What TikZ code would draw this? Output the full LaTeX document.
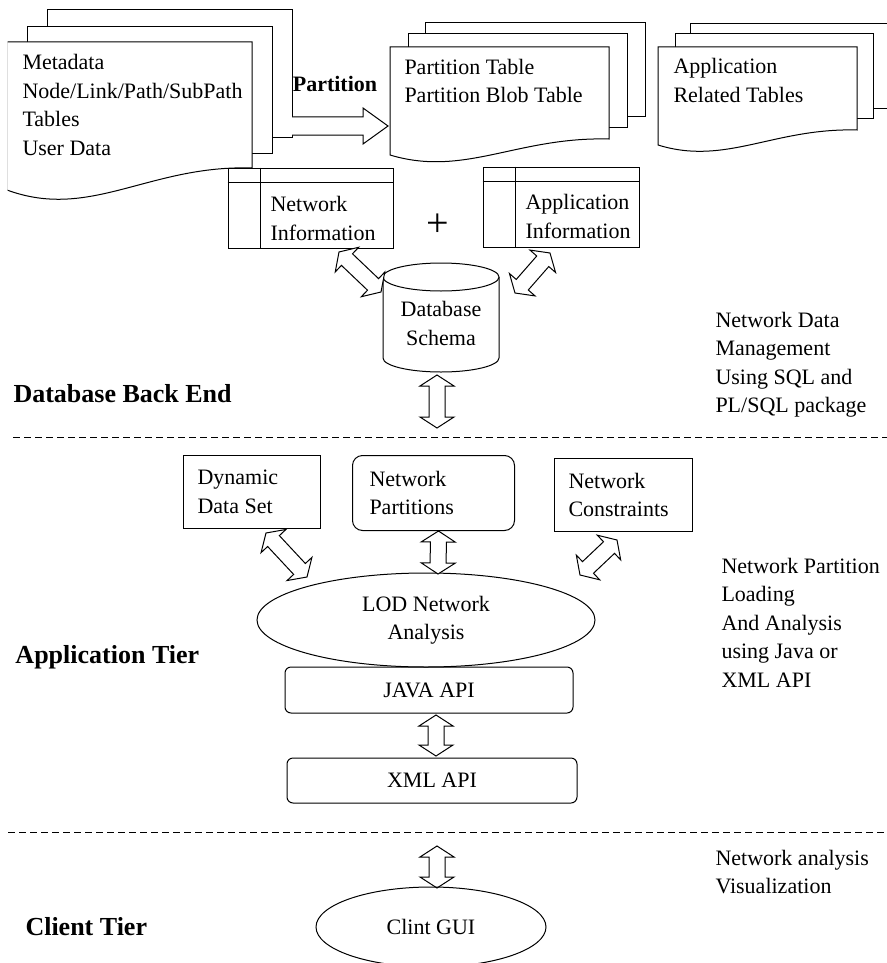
\documentclass[tikz,border=0pt]{standalone}
\usepackage{fontspec}
\setmainfont{Liberation Serif}
\usetikzlibrary{calc}
\usetikzlibrary{shapes.geometric}
\newcommand{\bodyfont}{\fontsize{11}{14.25}\selectfont}
\tikzset{
    sheet/.style={draw=black, fill=white},
    tablebox/.style={draw=black, fill=white, inner sep=0pt},
    infobox/.style={draw=black, anchor=north west, align=flush left, inner ysep=0pt, font=\bodyfont},
    apibox/.style={draw=black, rounded corners=3pt, inner sep=0pt, font=\bodyfont},
    oval/.style={draw=black, ellipse, inner sep=0pt, font=\bodyfont},
    fatarrow/.style={draw=black, fill=white},
    tierline/.style={draw=black, dash pattern=on 3.5pt off 2pt},
    tierlabel/.style={anchor=base west, inner sep=0pt, font=\fontsize{13}{15}\selectfont\bfseries},
    bodytext/.style={anchor=west, align=left, inner sep=0pt, font=\bodyfont},
}
% arrow sizes: half shaft, half head, head length
\newcommand{\fatshaft}{4pt}
\newcommand{\fathead}{8.5pt}
\newcommand{\fatlen}{5.5pt}
\newcommand{\dblarrow}[2]{%
    \draw[fatarrow] (#1)
        -- ($(#1)!\fatlen!(#2)!\fathead!90:(#2)$)
        -- ($(#1)!\fatlen!(#2)!\fatshaft!90:(#2)$)
        -- ($(#2)!\fatlen!(#1)!\fatshaft!-90:(#1)$)
        -- ($(#2)!\fatlen!(#1)!\fathead!-90:(#1)$)
        -- (#2)
        -- ($(#2)!\fatlen!(#1)!\fathead!90:(#1)$)
        -- ($(#2)!\fatlen!(#1)!\fatshaft!90:(#1)$)
        -- ($(#1)!\fatlen!(#2)!\fatshaft!-90:(#2)$)
        -- ($(#1)!\fatlen!(#2)!\fathead!-90:(#2)$)
        -- cycle;}
\newcommand{\onearrow}[2]{%
    \draw[fatarrow] ($(#1)!\fatshaft!90:(#2)$)
        -- ($(#2)!\fatlen!(#1)!\fatshaft!-90:(#1)$)
        -- ($(#2)!\fatlen!(#1)!\fathead!-90:(#1)$)
        -- (#2)
        -- ($(#2)!\fatlen!(#1)!\fathead!90:(#1)$)
        -- ($(#2)!\fatlen!(#1)!\fatshaft!90:(#1)$)
        -- ($(#1)!\fatshaft!-90:(#2)$);}
% front sheet of a stack: x1, top, x2, bottom right, drop of the wave
\newcommand{\docfront}[5]{%
    \draw[sheet] (#1,#2) -- (#3,#2) -- (#3,#4)
        .. controls ({#3-0.42*(#3-#1)},{#4-0.15*#5}) and ({#1+0.34*(#3-#1)},{#4+2.4*#5}) .. (#1,{#4+#5})
        -- cycle;}

\begin{document}
\begin{tikzpicture}[x=0.5pt, y=-0.5pt, line width=0.5pt]
	\useasboundingbox (0,0) rectangle (887,963);
	\clip (7.5,0) rectangle (887,963);
	% back end tables
	\draw[sheet] (47,10) rectangle (292,137);
	\draw[sheet] (27,27) rectangle (272,153);
	\docfront{7}{42}{252}{168}{22}
	\node[bodytext] (rawdata) at (22,105) {Metadata\\Node/Link/Path/SubPath\\Tables\\User Data};
	\draw[sheet] (425,23) rectangle (645,117);
	\draw[sheet] (408,34) rectangle (627,128);
	\docfront{390}{47}{609}{139}{16}
	\node[bodytext] (parttables) at (404,81) {Partition Table\\Partition Blob Table};
	\draw[sheet] (690,24) rectangle (895,109);
	\draw[sheet] (675,34) rectangle (873,119);
	\docfront{658}{47}{857}{130}{15}
	\node[bodytext] (apptables) at (673,80.5) {Application\\Related Tables};
	%
	\coordinate (parttail) at (292,126);
	\coordinate (parttip) at (388,126);
	\begin{scope}
		\renewcommand{\fatshaft}{4.5pt}
		\renewcommand{\fathead}{9pt}
		\renewcommand{\fatlen}{12.5pt}
		\onearrow{parttail}{parttip}
	\end{scope}
	\node[anchor=base, inner sep=0pt, font=\fontsize{11}{13}\selectfont\bfseries] (partlabel) at (335,92) {Partition};
	%
	\node[tablebox, minimum width=82.5pt, minimum height=40pt] (netinfo) at (310.5,208) {};
	\draw ([yshift=-7.5pt]netinfo.north west) -- ([yshift=-7.5pt]netinfo.north east);
	\draw ([xshift=16.5pt]netinfo.north west) -- ([xshift=16.5pt]netinfo.south west);
	\node[bodytext] (netinfotext) at (270,218.5) {Network\\Information};
	\node[tablebox, minimum width=78pt, minimum height=40pt] (appinfo) at (561,207) {};
	\draw ([yshift=-7.5pt]appinfo.north west) -- ([yshift=-7.5pt]appinfo.north east);
	\draw ([xshift=16.5pt]appinfo.north west) -- ([xshift=16.5pt]appinfo.south west);
	\node[bodytext] (appinfotext) at (525,216.5) {Application\\Information};
	\node[inner sep=0pt, font=\fontsize{20}{24}\selectfont] (plus) at (438,225) {+};
	%
	\draw[sheet] (383,277) -- (383,358) arc[start angle=180, end angle=360, x radius=29pt, y radius=7pt] -- (499,277);
	\draw[sheet] (441,277) ellipse [x radius=29pt, y radius=7pt];
	\node[align=center, inner sep=0pt, font=\bodyfont] (dbschema) at (441,323.5) {Database\\Schema};
	%
	\coordinate (netup) at (339,252);
	\coordinate (netdown) at (381,292);
	\coordinate (appup) at (550,253);
	\coordinate (appdown) at (515,293);
	\coordinate (dbout) at (437,375);
	\coordinate (dbin) at (437,428);
	\dblarrow{netup}{netdown}
	\dblarrow{appup}{appdown}
	\dblarrow{dbout}{dbin}
	%
	\node[tierlabel] (backend) at (13,402) {Database Back End};
	\node[bodytext] (backendnote) at (715,364.5) {Network Data\\Management\\Using SQL and\\PL/SQL package};
	\draw[tierline] (13,437) -- (887,437);
	%
	\node[infobox, text width=54.5pt, inner xsep=7pt, minimum height=36.5pt] (dynset) at (183,455) {Dynamic\\Data Set};
	\node[infobox, rounded corners=5pt, text width=64pt, inner xsep=8.5pt, minimum height=37.5pt] (netparts) at (352,455) {Network\\Partitions};
	\node[infobox, text width=55pt, inner xsep=7pt, minimum height=36.5pt] (netcons) at (554,458) {Network\\Constraints};
	\node[oval, minimum width=169pt, minimum height=47pt, align=center] (lod) at (426,620) {LOD Network\\Analysis};
	\node[apibox, minimum width=144pt, minimum height=23pt] (javaapi) at (429,690) {JAVA API};
	\node[apibox, minimum width=145pt, minimum height=22.5pt] (xmlapi) at (432,780.5) {XML API};
	%
	\coordinate (dynup) at (266,533);
	\coordinate (dyndown) at (307,577);
	\coordinate (partup) at ([xshift=2.5pt]netparts.south);
	\coordinate (partdown) at (438,574);
	\coordinate (consup) at (617,540);
	\coordinate (consdown) at (580,575);
	\coordinate (javaout) at (436,715);
	\coordinate (xmlin) at (436,756);
	\dblarrow{dynup}{dyndown}
	\dblarrow{partup}{partdown}
	\dblarrow{consup}{consdown}
	\dblarrow{javaout}{xmlin}
	%
	\node[tierlabel] (apptier) at (15,663) {Application Tier};
	\node[bodytext] (appnote) at (721,622.5) {Network Partition\\Loading\\And Analysis\\using Java or\\XML API};
	\draw[tierline] (8,832) -- (887,832);
	%
	\coordinate (guiup) at (437,846);
	\coordinate (guidown) at (437,888);
	\dblarrow{guiup}{guidown}
	\node[oval, minimum width=115pt, minimum height=40pt] (clintgui) at (431,927) {Clint GUI};
	\node[tierlabel] (clienttier) at (25,935) {Client Tier};
	\node[bodytext] (clientnote) at (715,872) {Network analysis\\Visualization};
\end{tikzpicture}
\end{document}
